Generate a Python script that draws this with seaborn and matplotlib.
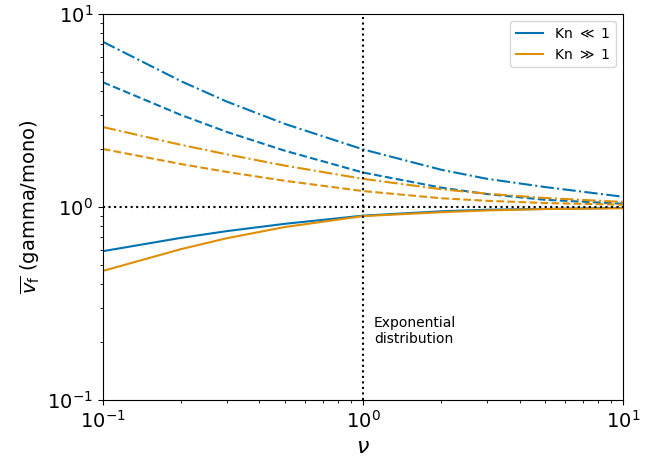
import matplotlib
matplotlib.use("Agg")
import matplotlib.pyplot as plt
import seaborn as sns

# shape parameter of the gamma distribution
nu = [0.1, 0.2, 0.3, 0.5, 1, 2, 3, 5, 10]

# Kn << 1 (blue)
kn_small_solid = [0.59, 0.692, 0.75, 0.818, 0.902, 0.95, 0.968, 0.977, 0.99]
kn_small_dash = [4.44, 3.0, 2.45, 1.96, 1.51, 1.26, 1.167, 1.09, 1.04]
kn_small_dashdot = [7.2, 4.49, 3.52, 2.70, 1.99, 1.56, 1.40, 1.27, 1.13]

# Kn >> 1 (orange)
kn_large_solid = [0.466, 0.605, 0.689, 0.787, 0.897, 0.94, 0.96, 0.976, 0.985]
kn_large_dash = [2.0, 1.67, 1.52, 1.368, 1.21, 1.11, 1.077, 1.049, 1.028]
kn_large_dashdot = [2.6, 2.10, 1.875, 1.64, 1.40, 1.236, 1.172, 1.114, 1.062]

pal = sns.color_palette("colorblind")
blue, orange = pal[0], pal[1]

fig, ax = plt.subplots(figsize=(6.63, 4.58), dpi=100)
fig.subplots_adjust(left=0.155, right=0.94, top=0.969, bottom=0.127)

sns.lineplot(x=nu, y=kn_small_solid, color=blue, label=r"Kn $\ll$ 1", ax=ax)
sns.lineplot(x=nu, y=kn_large_solid, color=orange, label=r"Kn $\gg$ 1", ax=ax)
sns.lineplot(x=nu, y=kn_small_dash, color=blue, linestyle="--", ax=ax)
sns.lineplot(x=nu, y=kn_large_dash, color=orange, linestyle="--", ax=ax)
sns.lineplot(x=nu, y=kn_small_dashdot, color=blue, linestyle="-.", ax=ax)
sns.lineplot(x=nu, y=kn_large_dashdot, color=orange, linestyle="-.", ax=ax)

ax.axhline(1, color="k", linestyle=":")
ax.axvline(1, color="k", linestyle=":")

ax.set_xscale("log")
ax.set_yscale("log")
ax.set_xlim(0.1, 10)
ax.set_ylim(0.1, 10)

ax.text(1.1, 0.19, "Exponential\ndistribution", fontsize=10, va="bottom")

ax.set_xlabel(r"$\nu$", fontsize=16)
ax.set_ylabel(r"$\overline{v_\mathrm{f}}$ (gamma/mono)", fontsize=14)
ax.tick_params(labelsize=14)
ax.legend(loc="upper right", fontsize=10)

fig.savefig("out.png", dpi=100)
